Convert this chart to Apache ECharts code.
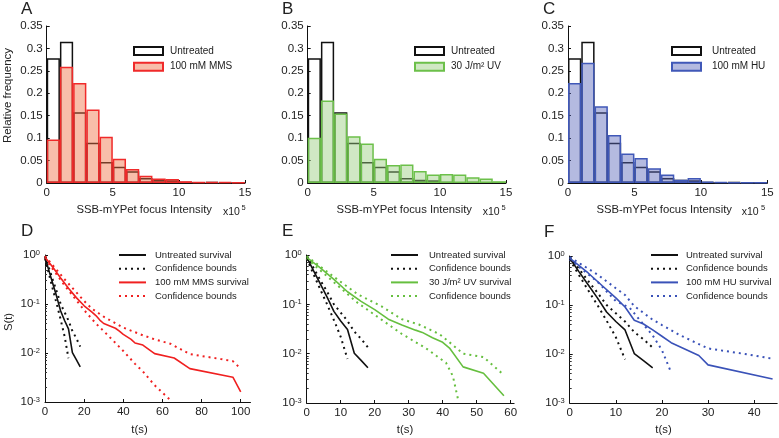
<!DOCTYPE html>
<html>
<head>
<meta charset="utf-8">
<script src="https://cdn.jsdelivr.net/npm/echarts@6/dist/echarts.min.js"></script>
<style>
  html, body { margin: 0; padding: 0; background: #fff; }
  #chart { width: 779px; height: 438px; }
</style>
</head>
<body>
<div id="chart"></div>
<script>
// histogram bins (x 10^5), start of each unit-wide bin
const bins = ['0', '1', '2', '3', '4', '5', '6', '7', '8', '9', '10', '11', '12', '13', '14'];

// relative frequency per bin
const untreated = [0.278, 0.315, 0.158, 0.090, 0.047, 0.036, 0.026, 0.011, 0.007, 0.006, 0.002, 0.001, 0.002, 0.001, 0.0005];
const mms = [0.097, 0.259, 0.223, 0.164, 0.103, 0.054, 0.031, 0.016, 0.010, 0.009, 0.004, 0.002, 0.002, 0.002, 0.001];
const uv = [0.101, 0.184, 0.155, 0.104, 0.088, 0.054, 0.040, 0.041, 0.027, 0.019, 0.020, 0.019, 0.013, 0.010, 0.004];
const hu = [0.223, 0.268, 0.171, 0.107, 0.066, 0.056, 0.033, 0.019, 0.007, 0.011, 0.003, 0.002, 0.0015, 0.001, 0.001];

// survival curves [t (s), S(t)]
const untrSurv = [[0, 0.9], [2, 0.48], [4, 0.26], [6, 0.14], [8, 0.072], [10, 0.046], [12, 0.031], [14, 0.0102], [16, 0.0073], [18, 0.0052]];
const untrHi = [[0, 0.95], [2, 0.55], [4, 0.31], [6, 0.18], [8, 0.1], [10, 0.068], [12, 0.046], [14, 0.028], [16, 0.02], [18, 0.0135]];
const untrLo = [[0, 0.85], [2, 0.41], [4, 0.2], [6, 0.1], [8, 0.048], [10, 0.022], [12, 0.0078]];

const mmsSurv = [[0, 0.9], [4, 0.56], [8, 0.34], [12, 0.21], [16, 0.135], [20, 0.092], [24, 0.068], [26, 0.058], [28, 0.047], [30, 0.04], [36, 0.032], [38, 0.028], [40, 0.024], [44, 0.019], [46, 0.016], [50, 0.0145], [56, 0.0097], [66, 0.0079], [74, 0.0048], [96, 0.0032], [100, 0.0016]];
const mmsHi = [[0, 0.95], [10, 0.32], [20, 0.115], [24, 0.08], [30, 0.055], [40, 0.033], [50, 0.023], [56, 0.019], [64, 0.0155], [74, 0.0095], [90, 0.0075], [96, 0.0068], [100, 0.0048]];
const mmsLo = [[0, 0.85], [10, 0.24], [20, 0.075], [26, 0.04], [30, 0.028], [36, 0.016], [40, 0.011], [46, 0.006], [50, 0.0042], [56, 0.0022], [64, 0.0011]];

const uvSurv = [[0, 0.9], [4, 0.55], [8, 0.32], [12, 0.18], [16, 0.115], [20, 0.078], [24, 0.05], [28, 0.038], [32, 0.03], [34, 0.027], [37, 0.021], [40, 0.017], [42, 0.013], [46, 0.0054], [52, 0.004], [58, 0.0014]];
const uvHi = [[0, 0.95], [8, 0.36], [15, 0.16], [22, 0.091], [28, 0.05], [33, 0.039], [39, 0.025], [42, 0.017], [46, 0.01], [52, 0.0085], [58, 0.0037]];
const uvLo = [[0, 0.85], [8, 0.28], [15, 0.107], [22, 0.049], [28, 0.025], [35, 0.013], [41, 0.0065], [43, 0.0035], [44.5, 0.0012]];

const huSurv = [[0, 0.9], [4, 0.45], [7, 0.25], [10, 0.14], [12, 0.091], [14, 0.049], [16, 0.041], [18, 0.031], [20, 0.023], [22, 0.017], [28, 0.0093], [30, 0.006], [44, 0.0031]];
const huHi = [[0, 0.95], [6, 0.42], [10, 0.22], [12, 0.16], [14, 0.095], [18, 0.05], [20, 0.039], [24, 0.024], [30, 0.013], [38, 0.01], [44, 0.008]];
const huLo = [[0, 0.85], [6, 0.3], [10, 0.12], [13, 0.088], [16, 0.04], [18, 0.024], [20, 0.012], [22, 0.0042]];

// minor ticks of the log axes: 2..9 x each decade
const decades = [0.001, 0.01, 0.1];
const minorFactors = [2, 3, 4, 5, 6, 7, 8, 9];
const minorTicks = [];
decades.forEach(d => minorFactors.forEach(f => minorTicks.push(+(d * f).toPrecision(3))));

const font = '"Liberation Sans", Arial, Helvetica, sans-serif';
const txt = '#222';

const histPanels = [
  { key: 'A', grid: { left: 46.7, top: 26, width: 198.3, height: 157 }, data: mms, label: '100 mM MMS',
    fill: 'rgba(240,111,67,0.45)', edge: '#f02a2a', legend: { left: 133, pad: 2 } },
  { key: 'B', grid: { left: 307.7, top: 26, width: 198.3, height: 157 }, data: uv, label: '30 J/m² UV',
    fill: 'rgba(151,204,124,0.45)', edge: '#6cc04a', legend: { left: 414, pad: 2 } },
  { key: 'C', grid: { left: 568, top: 26, width: 199.3, height: 157 }, data: hu, label: '100 mM HU',
    fill: 'rgba(89,102,187,0.45)', edge: '#4058b8', legend: { left: 671, pad: 6 } }
];

const survPanels = [
  { key: 'D', grid: { left: 45, top: 255, width: 205.5, height: 147 }, max: 105, interval: 20,
    surv: mmsSurv, hi: mmsHi, lo: mmsLo, color: '#f02020', label: '100 mM MMS survival', legend: { left: 118, pad: 4 } },
  { key: 'E', grid: { left: 306.7, top: 255, width: 207.4, height: 148 }, max: 61, interval: 10,
    surv: uvSurv, hi: uvHi, lo: uvLo, color: '#66bf3f', label: '30 J/m² UV survival', legend: { left: 390, pad: 6 } },
  { key: 'F', grid: { left: 569.7, top: 256, width: 207.5, height: 147 }, max: 45, interval: 10,
    surv: huSurv, hi: huHi, lo: huLo, color: '#3a52b8', label: '100 mM HU survival', legend: { left: 650, pad: 3 } }
];

function axisBase() {
  return {
    axisLine: { show: true, lineStyle: { color: '#111', width: 1 } },
    axisTick: { show: true, inside: true, length: 3, lineStyle: { color: '#111' } },
    splitLine: { show: false }
  };
}

const grids = [], xAxes = [], yAxes = [], series = [], legends = [], graphics = [];
const names = {};

histPanels.forEach((p, i) => {
  grids.push(p.grid);
  yAxes.push(Object.assign(axisBase(), {
    type: 'value', gridIndex: i, min: 0, max: 0.35, interval: 0.05,
    axisLabel: { color: txt, fontSize: 11.5, fontFamily: font, margin: 4 }
  }));
  xAxes.push(Object.assign(axisBase(), {
    type: 'value', gridIndex: i, min: 0, max: 15, interval: 5,
    axisLabel: { color: txt, fontSize: 11.5, fontFamily: font, margin: 4 }
  }));
});
histPanels.forEach((p, i) => {
  xAxes.push({ type: 'category', gridIndex: i, data: bins, show: false, boundaryGap: true });
});
survPanels.forEach((p, j) => {
  const gi = 3 + j;
  grids.push(p.grid);
  yAxes.push(Object.assign(axisBase(), {
    type: 'log', logBase: 10, gridIndex: gi, min: 0.001, max: 1,
    axisLabel: {
      color: txt, fontSize: 11.5, fontFamily: font, margin: 5,
      formatter: v => '10{e|' + Math.round(Math.log10(v)) + '}',
      rich: { e: { fontSize: 7.5, fontFamily: font, color: txt, verticalAlign: 'top' } }
    }
  }));
  xAxes.push(Object.assign(axisBase(), {
    type: 'value', gridIndex: gi, min: 0, max: p.max, interval: p.interval,
    axisLabel: { color: txt, fontSize: 11.5, fontFamily: font, margin: 4, showMaxLabel: p.max % p.interval === 0 }
  }));
});
// second log axis per survival panel, only for the minor ticks
survPanels.forEach((p, j) => {
  yAxes.push({
    type: 'log', logBase: 10, gridIndex: 3 + j, min: 0.001, max: 1, position: 'left',
    axisLine: { show: false }, axisLabel: { show: false }, splitLine: { show: false },
    axisTick: { show: true, inside: true, length: 2, customValues: minorTicks, lineStyle: { color: '#333' } }
  });
});

// histograms
histPanels.forEach((p, i) => {
  const nU = p.key + '_untr', nT = p.key + '_trt';
  names[nU] = 'Untreated';
  names[nT] = p.label;
  series.push({
    type: 'bar', name: nU, xAxisIndex: 3 + i, yAxisIndex: i, data: untreated,
    barWidth: '100%', barGap: '-100%', z: 2,
    itemStyle: { color: 'rgba(255,255,255,0)', borderColor: '#111', borderWidth: 1.5 }
  });
  series.push({
    type: 'bar', name: nT, xAxisIndex: 3 + i, yAxisIndex: i, data: p.data,
    barWidth: '100%', barGap: '-100%', z: 3,
    itemStyle: { color: p.fill, borderColor: p.edge, borderWidth: 1.5 }
  });
  legends.push({
    orient: 'vertical', left: p.legend.left, top: 44.5, padding: 0,
    itemWidth: 29, itemHeight: 8, itemGap: 2.7, icon: 'rect', selectedMode: false,
    textStyle: { fontSize: 10, fontFamily: font, color: txt, lineHeight: 13, padding: [0, 0, 0, p.legend.pad] },
    data: [nU, nT], formatter: n => names[n]
  });
});

// survival curves (no symbols; itemStyle opacity 0 keeps legend icons as plain lines)
function line(name, ax, data, color, dotted) {
  return {
    type: 'line', name: name, xAxisIndex: ax, yAxisIndex: ax - 3, data: data,
    symbol: 'none', z: dotted ? 3 : 4,
    lineStyle: dotted ? { color: color, width: 2, type: [2, 4] } : { color: color, width: 1.6 },
    itemStyle: { color: color, opacity: 0 }
  };
}
survPanels.forEach((p, j) => {
  const ax = 6 + j;
  const k = p.key;
  names[k + '_us'] = 'Untreated survival';
  names[k + '_uh'] = 'Confidence bounds';
  names[k + '_ts'] = p.label;
  names[k + '_th'] = 'Confidence bounds';
  series.push(line(k + '_uh', ax, untrHi, '#111', true));
  series.push(line(k + '_ul', ax, untrLo, '#111', true));
  series.push(line(k + '_th', ax, p.hi, p.color, true));
  series.push(line(k + '_tl', ax, p.lo, p.color, true));
  series.push(line(k + '_us', ax, untrSurv, '#111', false));
  series.push(line(k + '_ts', ax, p.surv, p.color, false));
  legends.push({
    orient: 'vertical', left: p.legend.left, top: 248.5, padding: 0,
    itemWidth: 27, itemHeight: 12, itemGap: 0.7, selectedMode: false,
    textStyle: { fontSize: 9.5, fontFamily: font, color: txt, lineHeight: 13, padding: [0, 0, 0, p.legend.pad] },
    data: [k + '_us', k + '_uh', k + '_ts', k + '_th'], formatter: n => names[n]
  });
});

// panel letters and axis titles (y = vertical centre of the text)
function text(t, x, y, size, align) {
  return {
    type: 'text', x: x, y: y, silent: true,
    style: { text: t, font: size + 'px ' + font, fill: txt, align: align || 'left', verticalAlign: 'middle' }
  };
}
[['A', 21, 9.5], ['B', 282, 9.5], ['C', 543, 9.5], ['D', 21, 231.5], ['E', 282, 231.5], ['F', 544, 232.5]].forEach(l => {
  graphics.push(text(l[0], l[1], l[2], 17));
});
[[212, 223, 241.5], [472, 482.7, 501.5], [732, 741.7, 761]].forEach(c => {
  graphics.push(text('SSB-mYPet focus Intensity', c[0], 209.5, 11.3, 'right'));
  graphics.push(text('x10', c[1], 212, 10.5));
  graphics.push(text('5', c[2], 208, 7.5));
});
[139.5, 405, 663.5].forEach(x => {
  graphics.push(text('t(s)', x, 430, 11.3, 'center'));
});
graphics.push(Object.assign(text('Relative frequency', 8, 95.5, 11.5, 'center'), { rotation: Math.PI / 2 }));
graphics.push(Object.assign(text('S(t)', 8.5, 322, 11.3, 'center'), { rotation: Math.PI / 2 }));

const chart = echarts.init(document.getElementById('chart'));
chart.setOption({
  animation: false,
  backgroundColor: '#fff',
  grid: grids,
  xAxis: xAxes,
  yAxis: yAxes,
  legend: legends,
  series: series,
  graphic: graphics
});
</script>
</body>
</html>
